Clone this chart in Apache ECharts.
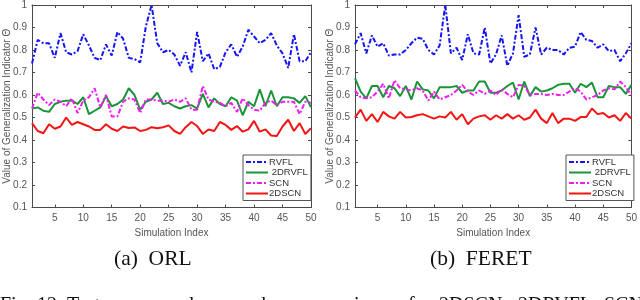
<!DOCTYPE html>
<html>
<head>
<meta charset="utf-8">
<script src="https://cdn.jsdelivr.net/npm/echarts@6/dist/echarts.min.js"></script>
<style>
html,body{margin:0;padding:0;background:#fff;}
#c{width:640px;height:300px;}
</style>
</head>
<body>
<div id="c"></div>
<script>
const simIndex = [1,2,3,4,5,6,7,8,9,10,11,12,13,14,15,16,17,18,19,20,21,22,23,24,25,26,27,28,29,30,31,32,33,34,35,36,37,38,39,40,41,42,43,44,45,46,47,48,49,50];
const xTickLabels = ['5','10','15','20','25','30','35','40','45','50'];
const seriesNames = ['RVFL', ' 2DRVFL', 'SCN', '2DSCN'];

// (a) ORL
const orlRVFL = [0.74,0.845,0.83,0.83,0.765,0.875,0.79,0.78,0.795,0.87,0.82,0.765,0.755,0.825,0.775,0.88,0.85,0.765,0.76,0.745,0.905,1.0,0.83,0.79,0.80,0.78,0.73,0.79,0.70,0.88,0.75,0.785,0.715,0.725,0.79,0.825,0.77,0.815,0.89,0.86,0.83,0.845,0.875,0.82,0.785,0.72,0.87,0.75,0.75,0.79];
const orl2DRVFL = [0.54,0.545,0.53,0.525,0.56,0.57,0.575,0.575,0.56,0.59,0.515,0.53,0.545,0.595,0.55,0.56,0.58,0.63,0.60,0.535,0.57,0.58,0.61,0.56,0.565,0.55,0.54,0.55,0.555,0.54,0.605,0.545,0.585,0.56,0.55,0.59,0.575,0.51,0.57,0.55,0.625,0.55,0.62,0.55,0.59,0.59,0.585,0.565,0.595,0.545];
const orlSCN = [0.54,0.61,0.58,0.555,0.58,0.57,0.55,0.585,0.52,0.575,0.59,0.63,0.545,0.60,0.505,0.505,0.57,0.585,0.58,0.52,0.58,0.58,0.575,0.575,0.57,0.58,0.57,0.585,0.535,0.535,0.64,0.58,0.57,0.565,0.55,0.565,0.525,0.585,0.555,0.535,0.53,0.565,0.575,0.555,0.57,0.57,0.57,0.515,0.57,0.565];
const orl2DSCN = [0.475,0.44,0.43,0.47,0.45,0.46,0.50,0.467,0.48,0.47,0.46,0.445,0.445,0.47,0.45,0.44,0.46,0.453,0.456,0.44,0.445,0.457,0.452,0.457,0.465,0.44,0.427,0.457,0.48,0.462,0.427,0.447,0.44,0.48,0.467,0.445,0.462,0.437,0.447,0.485,0.437,0.447,0.42,0.418,0.46,0.49,0.44,0.475,0.427,0.452];

// (b) FERET
const feretRVFL = [0.825,0.875,0.785,0.865,0.815,0.83,0.775,0.78,0.78,0.80,0.83,0.855,0.85,0.80,0.78,0.82,1.0,0.785,0.81,0.755,0.87,0.785,0.78,0.90,0.74,0.78,0.865,0.73,0.785,0.955,0.77,0.78,0.90,0.78,0.81,0.80,0.80,0.78,0.81,0.815,0.88,0.845,0.84,0.81,0.825,0.795,0.80,0.75,0.785,0.83];
const feret2DRVFL = [0.675,0.615,0.585,0.64,0.64,0.59,0.64,0.63,0.595,0.64,0.58,0.66,0.625,0.62,0.585,0.635,0.635,0.635,0.64,0.61,0.62,0.62,0.66,0.66,0.61,0.61,0.62,0.64,0.655,0.58,0.66,0.595,0.635,0.615,0.62,0.63,0.645,0.65,0.65,0.61,0.65,0.635,0.655,0.59,0.59,0.64,0.635,0.635,0.605,0.645];
const feretSCN = [0.62,0.59,0.585,0.59,0.615,0.65,0.585,0.665,0.63,0.625,0.62,0.63,0.62,0.575,0.615,0.58,0.59,0.60,0.62,0.645,0.615,0.60,0.62,0.605,0.62,0.60,0.625,0.605,0.59,0.645,0.64,0.60,0.605,0.605,0.60,0.605,0.60,0.60,0.615,0.63,0.615,0.58,0.59,0.60,0.62,0.63,0.625,0.66,0.635,0.60];
const feret2DSCN = [0.50,0.535,0.485,0.515,0.48,0.525,0.505,0.495,0.525,0.50,0.502,0.51,0.515,0.505,0.495,0.505,0.50,0.525,0.49,0.515,0.47,0.495,0.505,0.51,0.49,0.51,0.495,0.515,0.495,0.51,0.49,0.50,0.535,0.495,0.475,0.52,0.475,0.495,0.495,0.485,0.502,0.502,0.54,0.515,0.52,0.50,0.51,0.485,0.52,0.495];

// caption words and their left positions
const captionWords = ['Fig.', '12.', 'Test', 'error', 'values', 'and', 'comparison', 'for', '2DSCN,', '2DRVFL,', 'SCN,', 'and'];
const captionX = [0, 37, 67, 113, 170, 237, 294, 408, 439, 518, 604, 637];

const colors = ['#1414f5', '#1a9438', '#f01cf0', '#f41414'];
const lineTypes = [[5,2,2,2], 'solid', [5,2,2,2], 'solid'];

const axisGrey = '#4a4a4a';
const labelGrey = '#555';
const font = 'Liberation Sans, Arial, sans-serif';
const serif = 'Liberation Serif, Times New Roman, serif';

const grids = [
  {left: 32, top: 5, width: 279, height: 202.5},
  {left: 355, top: 5, width: 280, height: 202.5}
];

function tickInterval(idx, val) { return xTickLabels.indexOf(String(val)) >= 0; }

const xAxes = [], yAxes = [];
[0,1].forEach(g => {
  xAxes.push({
    type: 'category', gridIndex: g, data: simIndex, boundaryGap: false, position: 'bottom',
    axisLine: {show: true, lineStyle: {color: axisGrey, width: 1}},
    axisTick: {show: true, inside: true, length: 3, interval: tickInterval, lineStyle: {color: axisGrey}},
    axisLabel: {show: true, interval: tickInterval, color: labelGrey, fontSize: 10, fontFamily: font, margin: 6},
    splitLine: {show: false},
    name: 'Simulation Index', nameLocation: 'middle', nameGap: 18,
    nameTextStyle: {color: labelGrey, fontSize: 10, fontFamily: font}
  });
  xAxes.push({
    type: 'category', gridIndex: g, data: simIndex, boundaryGap: false, position: 'top',
    axisLine: {show: true, lineStyle: {color: axisGrey, width: 1}},
    axisTick: {show: true, inside: true, length: 3, interval: tickInterval, lineStyle: {color: axisGrey}},
    axisLabel: {show: false}, splitLine: {show: false}
  });
  yAxes.push({
    type: 'value', gridIndex: g, min: 0.1, max: 1, interval: 0.1, position: 'left',
    axisLine: {show: true, lineStyle: {color: axisGrey, width: 1}},
    axisTick: {show: true, inside: true, length: 3, lineStyle: {color: axisGrey}},
    axisLabel: {color: labelGrey, fontSize: 10, fontFamily: font, margin: 5,
      formatter: v => String(Math.round(v * 10) / 10)},
    splitLine: {show: false},
    name: 'Value of Generalization Indicator Θ', nameLocation: 'middle', nameGap: 20,
    nameMoveOverlap: false,
    nameTextStyle: {color: labelGrey, fontSize: 10, fontFamily: font}
  });
  yAxes.push({
    type: 'value', gridIndex: g, min: 0.1, max: 1, interval: 0.1, position: 'right',
    axisLine: {show: true, lineStyle: {color: axisGrey, width: 1}},
    axisTick: {show: true, inside: true, length: 3, lineStyle: {color: axisGrey}},
    axisLabel: {show: false}, splitLine: {show: false}
  });
});

const dataSets = [
  [orlRVFL, orl2DRVFL, orlSCN, orl2DSCN],
  [feretRVFL, feret2DRVFL, feretSCN, feret2DSCN]
];
const series = [];
[0,1].forEach(g => {
  [0,1,2,3].forEach(k => {
    series.push({
      type: 'line', name: seriesNames[k], xAxisIndex: g * 2, yAxisIndex: g * 2,
      data: dataSets[g][k], symbol: 'none', showSymbol: false, animation: false,
      lineStyle: {color: colors[k], width: 2, type: lineTypes[k]},
      itemStyle: {color: colors[k]}, z: 2 + k
    });
  });
});

function legendAt(left) {
  return {
    orient: 'vertical', left: left, top: 155, data: seriesNames,
    itemWidth: 22, itemHeight: 8, itemGap: 0.5, padding: [2, 3, 2, 2],
    borderColor: '#555', borderWidth: 1, backgroundColor: '#fff',
    itemStyle: {opacity: 0},
    textStyle: {color: '#333', fontSize: 9.5, fontFamily: font, padding: [0,0,0,-4]},
    selectedMode: false
  };
}

const graphics = [
  {type: 'text', left: 114, top: 248, style: {text: '(a)  ORL', fontSize: 21.5, fontFamily: serif, fill: '#111'}},
  {type: 'text', left: 430, top: 248, style: {text: '(b)  FERET', fontSize: 21.5, fontFamily: serif, fill: '#111'}}
];
captionWords.forEach((w, i) => {
  graphics.push({type: 'text', left: captionX[i], top: 296, style: {text: w, fontSize: 20, fontFamily: serif, fill: '#111'}});
});

const chart = echarts.init(document.getElementById('c'), null, {renderer: 'canvas'});
chart.setOption({
  animation: false,
  backgroundColor: '#fff',
  grid: grids,
  xAxis: xAxes,
  yAxis: yAxes,
  series: series,
  legend: [legendAt(243), legendAt(566)],
  graphic: graphics
});
</script>
</body>
</html>
